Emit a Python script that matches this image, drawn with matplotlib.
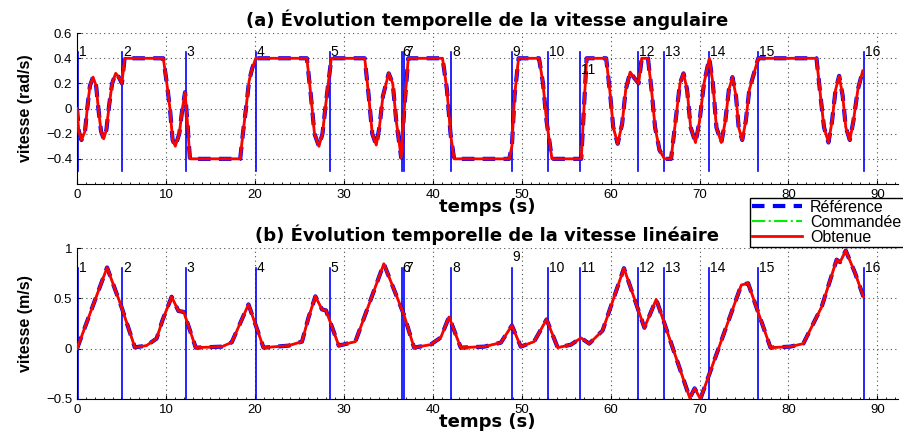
import matplotlib
matplotlib.use("Agg")
import matplotlib.pyplot as plt
from matplotlib.ticker import MultipleLocator

plt.rcParams['font.family'] = ['Liberation Sans', 'DejaVu Sans']

# waypoint passage times (vertical markers) and their labels
waypoint_t = [0.15, 5.07, 12.2, 20.07, 28.4, 36.5, 36.8, 42.1, 48.9, 53.0,
              56.6, 63.1, 66.0, 71.1, 76.6, 88.5]
waypoint_lbl = [str(i) for i in range(1, 17)]

# (a) angular velocity
w_t = [0.0, 0.2, 0.5, 0.9, 1.15, 1.45, 1.8, 2.15, 2.4, 2.7, 3.0, 3.3, 3.6, 3.95,
       4.35, 4.7, 5.05, 5.35, 9.7, 10.1, 10.45, 10.75, 11.05, 11.5, 11.85, 12.15,
       12.4, 12.7, 18.35, 18.65, 19.0, 19.35, 19.7, 20.1, 25.85, 26.3, 26.7, 27.2,
       27.6, 28.0, 28.6, 32.35, 32.8, 33.2, 33.65, 34.0, 34.4, 35.05, 35.5, 35.9,
       36.45, 36.8, 37.25, 41.1, 41.6, 42.0, 42.4, 48.6, 48.9, 49.2, 49.65, 51.95,
       52.4, 52.8, 53.4, 56.7, 57.3, 59.5, 59.9, 60.3, 60.8, 61.3, 61.7, 62.2,
       62.7, 63.15, 63.5, 64.2, 64.6, 65.0, 65.5, 66.05, 66.8, 67.3, 67.8, 68.2,
       68.6, 69.0, 69.55, 70.0, 70.5, 71.1, 71.5, 71.9, 72.45, 72.9, 73.3, 73.7,
       74.1, 74.4, 74.8, 75.2, 75.6, 76.2, 76.6, 83.15, 83.6, 84.0, 84.5, 84.9,
       85.3, 85.7, 86.1, 86.45, 86.9, 87.3, 87.8, 88.35]
w_val = [0.0, -0.18, -0.25, -0.18, 0.0, 0.18, 0.25, 0.18, 0.0, -0.18, -0.24, -0.17,
         0.02, 0.2, 0.28, 0.25, 0.2, 0.4, 0.4, 0.2, 0.0, -0.25, -0.3, -0.2, 0.0, 0.13,
         -0.1, -0.4, -0.4, -0.2, 0.0, 0.22, 0.32, 0.4, 0.4, 0.1, -0.2, -0.3, -0.2,
         0.05, 0.4, 0.4, 0.1, -0.2, -0.29, -0.15, 0.1, 0.28, 0.2, -0.1, -0.39, 0.0,
         0.4, 0.4, 0.15, -0.2, -0.4, -0.4, -0.3, 0.1, 0.4, 0.4, 0.2, -0.1, -0.4, -0.4,
         0.4, 0.4, 0.15, -0.15, -0.28, -0.12, 0.15, 0.29, 0.24, 0.2, 0.4, 0.4, 0.15,
         -0.15, -0.33, -0.4, -0.4, -0.1, 0.2, 0.28, 0.15, -0.15, -0.27, -0.1, 0.2,
         0.4, 0.2, -0.15, -0.27, -0.1, 0.15, 0.25, 0.1, -0.15, -0.25, -0.1, 0.15,
         0.3, 0.4, 0.4, 0.1, -0.15, -0.27, -0.1, 0.15, 0.26, 0.1, -0.15, -0.25, -0.1,
         0.15, 0.3]

# (b) linear velocity
v_t = [0.0, 3.38, 5.0, 6.5, 7.8, 8.95, 9.6, 10.64, 11.4, 12.0, 13.35, 16.3, 17.4,
       19.28, 20.97, 23.8, 25.3, 26.0, 26.8, 27.55, 28.0, 29.43, 31.3, 34.5, 36.75,
       37.9, 39.75, 40.9, 41.83, 43.15, 45.8, 47.66, 48.9, 49.9, 51.4, 52.8, 54.05,
       55.55, 56.67, 57.6, 59.1, 61.5, 63.8, 65.13, 68.9, 69.45, 70.1, 74.7, 75.46,
       77.98, 80.2, 81.67, 83.73, 85.42, 85.8, 86.44, 87.5, 88.43]
v_val = [0.0, 0.807, 0.415, 0.013, 0.03, 0.1, 0.28, 0.516, 0.375, 0.365, 0.01, 0.02,
         0.063, 0.44, 0.01, 0.03, 0.07, 0.3, 0.52, 0.39, 0.38, 0.03, 0.07, 0.844,
         0.34, 0.01, 0.04, 0.11, 0.315, 0.01, 0.02, 0.06, 0.23, 0.02, 0.07, 0.29,
         0.01, 0.04, 0.107, 0.05, 0.18, 0.8, 0.208, 0.49, -0.49, -0.395, -0.5, 0.633,
         0.65, 0.01, 0.02, 0.05, 0.415, 0.885, 0.86, 0.975, 0.75, 0.516]

BOLD_WIDE = ['DejaVu Sans']

fig = plt.figure(figsize=(9.04, 4.36), dpi=100)
ax1 = fig.add_axes([0.0852, 0.578, 0.908, 0.346])
ax2 = fig.add_axes([0.0852, 0.085, 0.908, 0.346])


def draw_panel(ax, t, y, line_lo, line_hi, lbl_y, ylim, yticks, ytl, title, ylabel):
    for tk in waypoint_t:
        ax.plot([tk, tk], [line_lo, line_hi], color='blue', lw=1.2, zorder=2)
    for k, tk in enumerate(waypoint_t):
        ax.text(tk + 0.1, lbl_y[k], waypoint_lbl[k], fontsize=10, ha='left',
                va='center', zorder=5)
    ax.plot(t, y, color='blue', ls='--', lw=3, dashes=(3, 2), zorder=3, label='Référence')
    ax.plot(t, y, color='#00ee00', ls='-.', lw=1.5, zorder=4, label='Commandée')
    ax.plot(t, y, color='red', ls='-', lw=2, zorder=4.5, label='Obtenue')
    ax.set_xlim(0, 92.3)
    ax.set_ylim(*ylim)
    ax.set_xticks(range(0, 100, 10))
    ax.set_yticks(yticks)
    ax.set_yticklabels(ytl)
    ax.xaxis.set_minor_locator(MultipleLocator(1))
    ax.tick_params(direction='in', labelsize=9.5, length=3)
    ax.tick_params(which='minor', direction='in', length=1.5)
    ax.grid(True, which='major', ls=(0, (1, 3)), color='0.3', lw=0.8)
    ax.spines['top'].set_visible(False)
    ax.spines['right'].set_visible(False)
    ax.set_title(title, fontsize=13, fontweight='bold', pad=5, family=BOLD_WIDE)
    ax.set_xlabel('temps (s)', fontsize=13, fontweight='bold', labelpad=-2,
                  family=BOLD_WIDE)
    ax.set_ylabel(ylabel, fontsize=11.5, fontweight='bold')
    ax.yaxis.set_label_coords(-0.054, 0.5)


lbl_a = [0.45] * 16
lbl_a[10] = 0.31
draw_panel(ax1, w_t, w_val, -0.5, 0.45, lbl_a, (-0.6, 0.6),
           [-0.4, -0.2, 0, 0.2, 0.4, 0.6], ['−0.4', '−0.2', '0', '0.2', '0.4', '0.6'],
           '(a) Évolution temporelle de la vitesse angulaire', 'vitesse (rad/s)')

lbl_b = [0.8] * 16
lbl_b[8] = 0.91
draw_panel(ax2, v_t, v_val, -0.5, 0.8, lbl_b, (-0.5, 1.0),
           [-0.5, 0, 0.5, 1], ['−0.5', '0', '0.5', '1'],
           '(b) Évolution temporelle de la vitesse linéaire', 'vitesse (m/s)')

handles, labels = ax2.get_legend_handles_labels()
fig.legend(handles, labels, loc='upper left', bbox_to_anchor=(0.8297, 0.547),
           fontsize=11.5, frameon=True, fancybox=False, edgecolor='black',
           framealpha=1, borderpad=0.15, labelspacing=0.0, handlelength=3.1,
           handletextpad=0.5, borderaxespad=0)

fig.savefig('out.png', dpi=100)
